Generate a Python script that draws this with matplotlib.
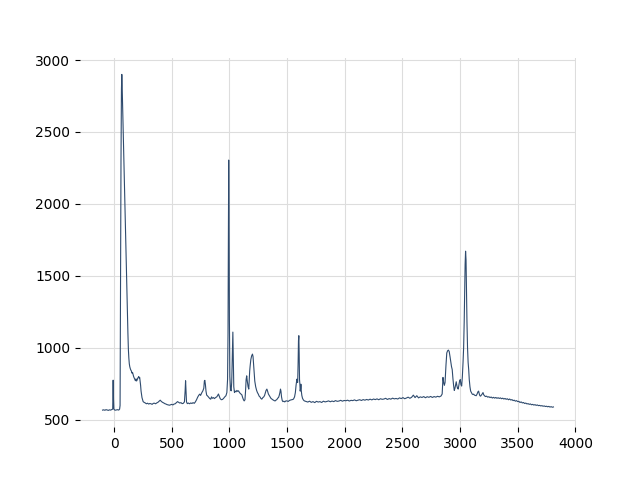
import matplotlib
matplotlib.use("Agg")
import numpy as np
import matplotlib.pyplot as plt

# Raman shift (cm-1) and intensity, segment by segment

# low shift region with the laser line
shift_low = [-100, -90, -80, -70, -60, -50, -40, -30, -20, -12, -8, -5, -2, 8, 20, 30, 40, 48,
             52, 56, 60, 64, 67, 70, 74, 78, 84, 90, 97, 104, 110, 113, 116, 120, 124, 128,
             132, 136, 141, 146, 150, 155, 160, 165, 170, 175, 180, 185, 190, 195, 200, 205,
             210, 214, 218, 222, 226, 230, 234, 237, 242, 247, 252, 260, 270, 280, 290]
counts_low = [568, 570, 567, 571, 569, 566, 570, 568, 572, 575, 776, 640, 575, 567, 569, 571, 568, 575,
              600, 1400, 2300, 2800, 2900, 2820, 2680, 2550, 2340, 2150, 1900, 1640, 1400, 1330, 1220, 1100, 990, 930,
              890, 870, 855, 845, 840, 825, 830, 815, 800, 790, 780, 772, 785, 770, 778, 790,
              795, 801, 790, 795, 770, 740, 700, 681, 655, 640, 627, 622, 618, 612, 616]

# fingerprint region
shift_mid = [300, 310, 320, 330, 340, 350, 360, 370, 380, 390, 400, 410, 420, 430, 440, 450, 460, 470,
             480, 490, 500, 510, 520, 530, 540, 550, 560, 570, 580, 590, 600, 610, 616, 620, 624, 628,
             635, 645, 655, 665, 675, 685, 695, 705, 715, 725, 735, 743, 750, 760, 770, 778, 783, 787,
             792, 797, 803, 810, 820, 830, 838, 845, 852, 862, 870, 880, 890, 897, 905, 912, 920, 930,
             940, 950, 960, 970, 978, 984, 988, 991, 994, 997, 1000, 1004, 1010, 1015, 1020, 1025, 1030,
             1034, 1038, 1044, 1050, 1058, 1065, 1072, 1079, 1086, 1094, 1100, 1108, 1115, 1122, 1128,
             1135, 1140, 1145, 1150, 1155, 1162, 1168, 1172, 1176, 1180, 1186, 1193, 1200, 1205, 1210,
             1215, 1220, 1228, 1236, 1243, 1250, 1258, 1265, 1272, 1281, 1290, 1298, 1305, 1312, 1318,
             1325, 1331, 1338, 1345, 1353, 1360, 1368, 1376, 1384, 1391, 1397, 1405, 1412, 1420, 1426,
             1432, 1438, 1443, 1447, 1452, 1458, 1464, 1472, 1480, 1490, 1499, 1510, 1520, 1530, 1540,
             1550, 1556, 1565, 1572, 1578, 1585, 1588, 1592, 1596, 1599, 1602, 1605, 1608, 1611, 1614,
             1617, 1620, 1623, 1628, 1634, 1642, 1650, 1657]
counts_mid = [610, 614, 612, 608, 615, 616, 612, 618, 622, 630, 637, 628, 622, 618, 613, 610, 606, 604,
              602, 605, 608, 604, 610, 612, 620, 627, 622, 617, 620, 613, 615, 625, 700, 772, 690, 625,
              613, 617, 612, 618, 614, 620, 615, 625, 640, 658, 672, 679, 670, 688, 702, 720, 770, 775,
              745, 700, 672, 667, 658, 648, 644, 660, 650, 655, 648, 655, 660, 668, 680, 665, 648, 640,
              642, 650, 660, 668, 690, 780, 1100, 1700, 2305, 1900, 1200, 800, 710, 702, 760, 950, 1110,
              900, 730, 690, 700, 695, 705, 698, 702, 692, 684, 680, 674, 655, 640, 632,
              640, 700, 780, 806, 770, 730, 714, 780, 840, 876, 920, 945, 957, 940, 880,
              810, 770, 730, 705, 690, 680, 665, 660, 650, 644, 655, 660, 670, 690, 705,
              714, 700, 680, 670, 660, 650, 645, 640, 636, 633, 632, 638, 642, 652, 655,
              670, 690, 714, 700, 660, 635, 627, 630, 625, 632, 632, 628, 635, 638, 640,
              642, 645, 660, 690, 740, 783, 760, 760, 900, 1050, 1085, 960, 780, 750, 700,
              715, 748, 705, 670, 650, 638, 632, 630]

# quiet region between fingerprint and C-H stretch
shift_flat = [1665, 1680, 1695, 1710, 1725, 1740, 1755, 1770, 1785, 1800, 1815, 1830, 1845, 1860,
              1875, 1890, 1905, 1920, 1935, 1950, 1965, 1980, 1995, 2010, 2025, 2040, 2055, 2070,
              2085, 2100, 2115, 2130, 2145, 2160, 2175, 2190, 2205, 2220, 2235, 2250, 2265, 2280,
              2295, 2310, 2325, 2340, 2355, 2370, 2385, 2400, 2415, 2430, 2445, 2460, 2475, 2490,
              2505, 2520, 2535, 2550, 2565, 2580, 2595, 2610, 2625, 2640, 2655, 2670, 2685, 2700,
              2715, 2730, 2745, 2760, 2775, 2790, 2805, 2820, 2835]
counts_flat = [628, 624, 630, 622, 627, 620, 629, 624, 627, 621, 630, 625, 628, 632,
               626, 631, 627, 634, 629, 631, 636, 630, 635, 633, 637, 631, 636, 634,
               639, 633, 637, 640, 635, 641, 637, 642, 638, 644, 639, 645, 641, 646,
               640, 647, 643, 645, 650, 642, 648, 644, 651, 646, 649, 645, 653, 648,
               655, 647, 652, 658, 650, 657, 672, 655, 668, 653, 660, 656, 662, 654,
               661, 657, 663, 656, 662, 658, 664, 660, 666]

# C-H stretch region and tail
shift_high = [2845, 2852, 2858, 2864, 2870, 2878, 2885, 2892, 2899, 2906, 2913, 2920, 2926, 2932,
              2938, 2944, 2950, 2956, 2962, 2967, 2972, 2978, 2984, 2990, 2996, 3002, 3008, 3014,
              3020, 3026, 3031, 3036, 3040, 3044, 3048, 3052, 3056, 3060, 3065, 3070, 3075, 3080,
              3086, 3092, 3098, 3105, 3112, 3118, 3125, 3132, 3140, 3148, 3155, 3161, 3167, 3172,
              3178, 3185, 3192, 3199, 3205, 3212, 3220, 3230, 3240, 3250, 3260, 3270, 3280, 3290,
              3300, 3310, 3320, 3330, 3340, 3350, 3360, 3370, 3380, 3390, 3400, 3410, 3420, 3430,
              3440, 3450, 3460, 3470, 3480, 3490, 3500, 3510, 3520, 3530, 3540, 3550, 3560, 3570,
              3580, 3590, 3600, 3610, 3620, 3630, 3640, 3650, 3660, 3670, 3680, 3690, 3700, 3710,
              3720, 3730, 3740, 3750, 3760, 3770, 3780, 3790, 3800, 3810]
counts_high = [680, 795, 760, 740, 760, 880, 965, 980, 985, 975, 940, 900, 870, 850,
               790, 740, 705, 720, 745, 765, 740, 720, 714, 740, 770, 780, 745, 735,
               800, 900, 1000, 1180, 1400, 1580, 1672, 1610, 1400, 1180, 1000, 900, 850, 780,
               730, 700, 690, 680, 676, 679, 672, 670, 668, 680, 695, 700, 680, 668,
               665, 672, 680, 690, 675, 668, 662, 665, 658, 661, 655, 659, 652, 657,
               651, 656, 650, 654, 649, 653, 647, 651, 645, 649, 643, 647, 640, 645,
               638, 641, 634, 637, 630, 634, 627, 629, 621, 625, 618, 621, 614, 617,
               611, 613, 608, 611, 605, 608, 603, 606, 601, 604, 599, 601, 597, 599,
               595, 597, 593, 595, 591, 594, 589, 592, 588, 590]

shift = np.array(shift_low + shift_mid + shift_flat + shift_high)
counts = np.array(counts_low + counts_mid + counts_flat + counts_high)

fig, ax = plt.subplots(figsize=(6.4, 4.8), dpi=100)
ax.plot(shift, counts, color='#2f4b6e', linewidth=0.8)

ax.set_xticks([0, 500, 1000, 1500, 2000, 2500, 3000, 3500, 4000])
ax.set_yticks([500, 1000, 1500, 2000, 2500, 3000])
ax.grid(True, color='#dddddd', linewidth=0.8)
ax.set_axisbelow(True)
for s in ax.spines.values():
    s.set_visible(False)

fig.savefig('out.png', dpi=100)
